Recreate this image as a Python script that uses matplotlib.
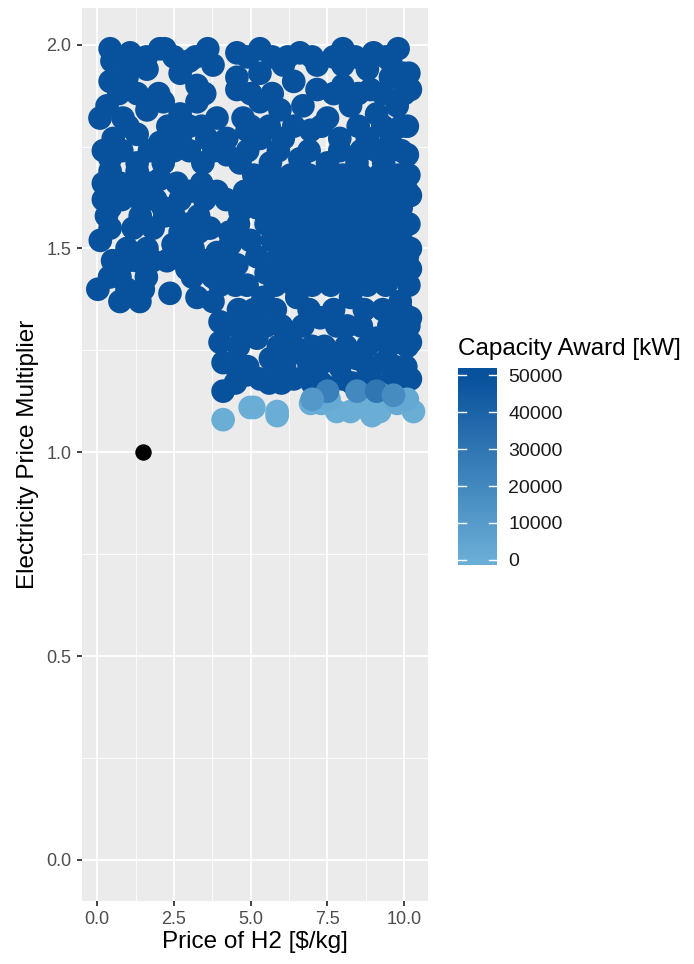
import numpy as np
import matplotlib
matplotlib.use("Agg")
import matplotlib.pyplot as plt
from matplotlib.colors import LinearSegmentedColormap, Normalize

plt.rcParams['font.family'] = ['Liberation Sans', 'DejaVu Sans']

# points that won the full capacity award (price of H2 [$/kg], electricity multiplier)
full_points = [
    (0.42, 1.99), (1.07, 1.98), (2.04, 1.99), (2.2, 1.99), (3.6, 1.99), (4.55, 1.98),
    (0.48, 1.96), (1.39, 1.96), (1.62, 1.94), (2.8, 1.95), (3.0, 1.96), (3.77, 1.95),
    (0.42, 1.91), (0.97, 1.92), (2.7, 1.93), (3.25, 1.9), (4.55, 1.89), (4.55, 1.92),
    (2.15, 1.86), (1.3, 1.88), (0.32, 1.85), (0.09, 1.82), (0.84, 1.82), (1.62, 1.84),
    (2.7, 1.83), (3.25, 1.86), (3.9, 1.82), (4.75, 1.82),
    (0.52, 1.77), (1.3, 1.78), (2.04, 1.76), (2.7, 1.77), (3.57, 1.77), (4.22, 1.77), (4.88, 1.79),
    (0.42, 1.72), (1.3, 1.71), (2.15, 1.71), (3.44, 1.71), (4.22, 1.73),
    (0.42, 1.69), (1.3, 1.69), (2.04, 1.67), (0.52, 1.64), (1.07, 1.65), (1.39, 1.62),
    (2.15, 1.6), (3.0, 1.64), (3.9, 1.64), (4.65, 1.71),
    (0.42, 1.6), (0.42, 1.55), (1.17, 1.55), (1.82, 1.55), (3.0, 1.56), (3.67, 1.55),
    (4.65, 1.59), (4.98, 1.52),
    (0.1, 1.52), (0.97, 1.5), (1.62, 1.5), (2.47, 1.51), (3.12, 1.5), (3.9, 1.49), (4.33, 1.51),
    (0.74, 1.43), (1.3, 1.47), (2.27, 1.47), (2.92, 1.45), (3.77, 1.43), (4.55, 1.46),
    (0.02, 1.4), (0.97, 1.4), (2.37, 1.39), (3.25, 1.38), (4.0, 1.41), (4.88, 1.41),
    (0.74, 1.37), (1.39, 1.37), (3.77, 1.37), (1.5, 1.40),
    (4.0, 1.32), (4.0, 1.27), (4.1, 1.22), (4.1, 1.15), (4.88, 1.19), (4.88, 1.31),
    (5.3, 1.99), (6.6, 1.98), (8.0, 1.99), (9.0, 1.98), (9.55, 1.96), (10.2, 1.89),
    (9.96, 1.93), (9.8, 1.99),
    (5.3, 1.93), (6.06, 1.95), (7.16, 1.95), (8.0, 1.95), (8.8, 1.94), (9.55, 1.92),
    (5.3, 1.86), (6.4, 1.91), (7.16, 1.89), (8.0, 1.9), (8.9, 1.89), (9.77, 1.85),
    (5.95, 1.84), (6.7, 1.85), (7.5, 1.82), (8.25, 1.85), (9.1, 1.83), (10.1, 1.8),
    (5.3, 1.77), (6.06, 1.77), (6.95, 1.79), (7.9, 1.77), (8.8, 1.77), (9.55, 1.76), (10.1, 1.73),
    (5.64, 1.71), (6.6, 1.72), (7.5, 1.71), (8.46, 1.71), (9.33, 1.71),
    (5.4, 1.38), (6.5, 1.38), (8.25, 1.38), (9.87, 1.37), (10.2, 1.33), (7.26, 1.33),
    (6.28, 1.29), (8.14, 1.31), (9.1, 1.28), (9.96, 1.27), (5.2, 1.28), (5.64, 1.23),
    (6.7, 1.24), (7.6, 1.23), (8.46, 1.23), (9.33, 1.22), (10.2, 1.18), (5.3, 1.18),
    (6.4, 1.18), (7.0, 1.17), (8.0, 1.18), (8.8, 1.16), (9.65, 1.19),
    (10.2, 1.63), (10.2, 1.5), (10.2, 1.45), (10.2, 1.27), (10.15, 1.93),
    # middle of the right block
    (5.1, 1.68), (5.7, 1.68), (6.3, 1.68), (6.9, 1.68), (7.4, 1.68), (8.0, 1.68), (8.6, 1.68),
    (9.2, 1.68), (9.8, 1.68), (10.15, 1.68),
    (4.8, 1.64), (5.4, 1.64), (6.0, 1.64), (6.6, 1.64), (7.2, 1.64), (7.8, 1.64), (8.3, 1.64),
    (8.9, 1.64), (9.5, 1.64), (10.1, 1.64),
    (5.2, 1.6), (5.8, 1.6), (6.4, 1.6), (7.0, 1.6), (7.6, 1.6), (8.1, 1.6), (8.7, 1.6),
    (9.3, 1.6), (9.9, 1.6),
    (4.6, 1.56), (5.5, 1.56), (6.1, 1.56), (6.7, 1.56), (7.3, 1.56), (7.9, 1.56), (8.5, 1.56),
    (9.0, 1.56), (9.6, 1.56), (10.15, 1.56),
    (5.7, 1.52), (6.3, 1.52), (6.9, 1.52), (7.5, 1.52), (8.1, 1.52), (8.7, 1.52), (9.3, 1.52), (9.9, 1.52),
    (5.2, 1.48), (5.9, 1.48), (6.5, 1.48), (7.1, 1.48), (7.7, 1.48), (8.3, 1.48), (8.9, 1.48),
    (9.5, 1.48), (10.1, 1.48),
    (5.5, 1.44), (6.2, 1.44), (6.8, 1.44), (7.4, 1.44), (8.0, 1.44), (8.6, 1.44), (9.2, 1.44), (9.8, 1.44),
    (4.5, 1.41), (5.8, 1.41), (6.4, 1.41), (7.0, 1.41), (7.6, 1.41), (8.2, 1.41), (8.8, 1.41),
    (9.4, 1.41), (10.15, 1.41),
    (4.6, 1.35), (5.1, 1.35), (5.8, 1.35), (6.9, 1.35), (7.7, 1.35), (8.7, 1.35), (9.3, 1.35), (9.9, 1.35),
    (4.5, 1.31), (5.5, 1.31), (6.0, 1.31), (6.7, 1.31), (7.8, 1.31), (8.6, 1.31), (9.5, 1.31), (10.15, 1.31),
    (4.6, 1.26), (5.9, 1.26), (6.4, 1.26), (7.0, 1.26), (7.4, 1.26), (8.1, 1.26), (8.8, 1.26),
    (9.5, 1.26), (10.1, 1.26),
    (4.5, 1.21), (4.9, 1.21), (5.9, 1.21), (6.1, 1.21), (6.9, 1.21), (7.2, 1.21), (7.9, 1.21),
    (8.8, 1.21), (9.7, 1.21), (10.05, 1.21),
    (4.5, 1.17), (5.6, 1.17), (6.0, 1.17), (7.3, 1.17), (8.3, 1.17), (9.0, 1.17), (9.9, 1.17),
    # upper right fill
    (4.9, 1.97), (5.7, 1.97), (6.2, 1.97), (7.0, 1.97), (7.7, 1.97), (8.4, 1.97), (9.4, 1.97),
    (5.0, 1.88), (5.7, 1.88), (7.7, 1.88), (8.5, 1.88), (9.3, 1.88), (10.0, 1.88),
    (5.0, 1.8), (5.6, 1.8), (6.4, 1.8), (7.3, 1.8), (8.5, 1.8), (9.3, 1.8), (9.9, 1.8),
    (4.9, 1.74), (5.9, 1.74), (6.9, 1.74), (7.9, 1.74), (8.6, 1.74), (9.1, 1.74), (9.9, 1.74),
    # left block fill
    (0.8, 1.97), (1.6, 1.97), (2.5, 1.97), (3.2, 1.97),
    (0.7, 1.88), (2.0, 1.88), (3.5, 1.88),
    (1.0, 1.8), (2.3, 1.8), (3.0, 1.8), (3.4, 1.8),
    (0.2, 1.74), (0.8, 1.74), (1.7, 1.74), (2.5, 1.74), (3.0, 1.74), (3.8, 1.74),
    (0.2, 1.66), (0.75, 1.66), (1.7, 1.66), (2.6, 1.66), (3.4, 1.66),
    (0.2, 1.62), (0.8, 1.62), (1.9, 1.62), (2.7, 1.62), (3.5, 1.62), (4.2, 1.62),
    (0.3, 1.58), (1.4, 1.58), (2.2, 1.58), (2.5, 1.58), (3.3, 1.58),
    (2.7, 1.54), (3.3, 1.54), (4.3, 1.54),
    (0.5, 1.47), (1.0, 1.47), (1.8, 1.47), (2.9, 1.47), (3.5, 1.47), (4.0, 1.47),
    (0.4, 1.43), (1.6, 1.43), (3.1, 1.43), (4.3, 1.43),
]
full_capacity = 50000

# points with a reduced award
part_x = [4.1, 4.98, 5.1, 5.86, 5.86, 6.95, 7.3, 7.8, 8.25, 8.68, 8.95, 9.2, 9.77, 10.3, 10.1, 7.55,
          7.5, 8.46, 9.1, 9.65, 7.0]
part_y = [1.08, 1.11, 1.11, 1.10, 1.09, 1.12, 1.12, 1.10, 1.10, 1.11, 1.09, 1.10, 1.12, 1.10, 1.13, 1.13,
          1.15, 1.15, 1.15, 1.14, 1.13]
part_cap = [0, 0, 0, 0, 0, 500, 1000, 0, 0, 0, 0, 0, 2000, 0, 3000, 2000,
            25000, 20000, 30000, 18000, 12000]

# reference case
ref_x, ref_y = 1.5, 1.0

cbar_ticks = [0, 10000, 20000, 30000, 40000, 50000]

cmap = LinearSegmentedColormap.from_list('award', ['#6aaed6', '#08519c'])
norm = Normalize(vmin=0, vmax=50000)

fig = plt.figure(figsize=(6.94, 9.64), dpi=100)
ax = fig.add_axes([0.118, 0.0657, 0.499, 0.926])
ax.set_facecolor('#ebebeb')
for s in ax.spines.values():
    s.set_visible(False)

fx = [p[0] for p in full_points]
fy = [p[1] for p in full_points]
ax.scatter(fx, fy, s=290, c=[full_capacity] * len(fx), cmap=cmap, norm=norm,
           linewidths=0, zorder=3)
ax.scatter(part_x, part_y, s=290, c=part_cap, cmap=cmap, norm=norm, linewidths=0, zorder=3)
ax.scatter([ref_x], [ref_y], s=140, color='black', linewidths=0, zorder=4)

ax.set_xlim(-0.5, 10.78)
ax.set_ylim(-0.1, 2.09)
xt = [0, 2.5, 5.0, 7.5, 10.0]
yt = [0, 0.5, 1.0, 1.5, 2.0]
ax.set_xticks(xt)
ax.set_xticklabels(['0.0', '2.5', '5.0', '7.5', '10.0'])
ax.set_yticks(yt)
ax.set_yticklabels(['0.0', '0.5', '1.0', '1.5', '2.0'])
ax.set_xticks([1.25, 3.75, 6.25, 8.75], minor=True)
ax.set_yticks([0.25, 0.75, 1.25, 1.75], minor=True)
ax.grid(True, which='major', color='white', linewidth=1.3, zorder=0)
ax.grid(True, which='minor', color='white', linewidth=0.6, zorder=0)
ax.set_axisbelow(True)
ax.tick_params(which='major', length=3.5, width=1.3, color='#333333',
               labelsize=13, labelcolor='#4d4d4d', pad=4)
ax.tick_params(which='minor', length=0)
ax.set_xlabel('Price of H2 [$/kg]', fontsize=17.5, color='black', labelpad=2)
ax.set_ylabel('Electricity Price Multiplier', fontsize=17.5, color='black', labelpad=5)

# colour bar drawn as a gradient strip
cax = fig.add_axes([0.66, 0.414, 0.056, 0.204])
lo, hi = -1350, 51900
grad = np.linspace(lo, hi, 256).reshape(-1, 1)
cax.imshow(grad, aspect='auto', cmap=cmap, norm=norm, origin='lower',
           extent=[0, 1, lo, hi])
cax.set_xlim(0, 1)
cax.set_ylim(lo, hi)
for t in cbar_ticks:
    cax.plot([0, 0.2], [t, t], color='white', linewidth=1)
    cax.plot([0.8, 1], [t, t], color='white', linewidth=1)
cax.set_xticks([])
cax.yaxis.tick_right()
cax.set_yticks(cbar_ticks)
cax.set_yticklabels([str(t) for t in cbar_ticks])
cax.tick_params(axis='y', length=0, labelsize=14, labelcolor='#1a1a1a', pad=8)
for s in cax.spines.values():
    s.set_visible(False)
fig.text(0.66, 0.627, 'Capacity Award [kW]', fontsize=17.5, ha='left', va='bottom')

fig.savefig('out.png', dpi=100)
